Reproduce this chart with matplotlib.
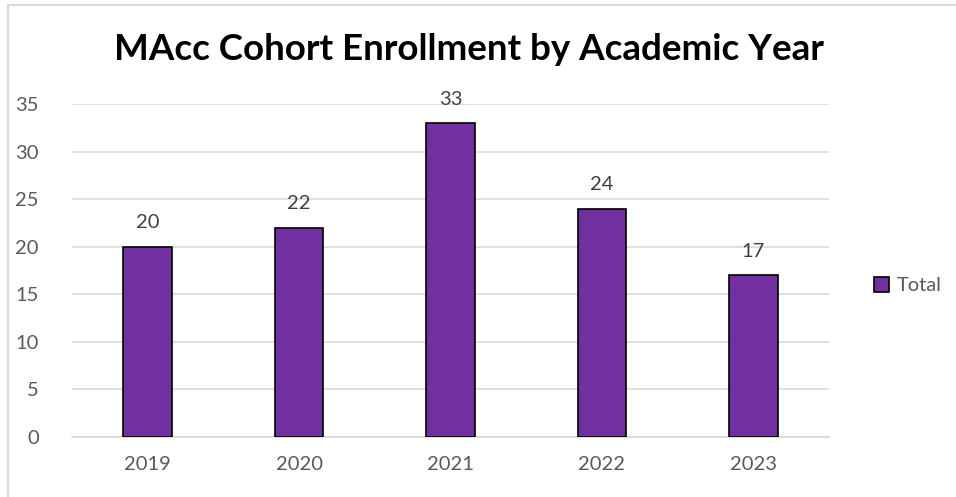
import matplotlib.pyplot as plt
from matplotlib.patches import Rectangle

years = ['2019', '2020', '2021', '2022', '2023']
totals = [20, 22, 33, 24, 17]
yticks = [0, 5, 10, 15, 20, 25, 30, 35]

purple = '#7030A0'
grey_text = '#595959'
plt.rcParams['font.family'] = ['Lato', 'DejaVu Sans']

fig = plt.figure(figsize=(9.56, 4.97), dpi=100)
# outer chart frame (right/bottom edges fall off the picture)
fig.patches.append(Rectangle((8 / 956, -0.05), 1.2, 1 - 5 / 497 + 0.05,
                             transform=fig.transFigure, fill=False,
                             edgecolor='#d9d9d9', linewidth=1.5))

ax = fig.add_axes([72 / 956, 1 - 437 / 497, (829 - 72) / 956, (437 - 104) / 497])
x = range(len(years))
bars = ax.bar(x, totals, width=0.32, color=purple, edgecolor='black',
              linewidth=1.2, label='Total', zorder=3)

ax.set_xlim(-0.5, len(years) - 0.5)
ax.set_ylim(0, 35)
ax.set_yticks(yticks)
ax.set_xticks(list(x))
ax.set_xticklabels(years)
ax.grid(axis='y', color='#d9d9d9', linewidth=1.2, zorder=0)
for s in ['top', 'right', 'left']:
    ax.spines[s].set_visible(False)
ax.spines['bottom'].set_color('#d9d9d9')
ax.spines['bottom'].set_linewidth(1.2)
ax.tick_params(axis='both', length=0, labelsize=14.5, colors=grey_text)
ax.tick_params(axis='y', pad=24)
ax.tick_params(axis='x', pad=14)

for b, v in zip(bars, totals):
    ax.annotate(str(v), (b.get_x() + b.get_width() / 2, v), xytext=(0, 11),
                textcoords='offset points', ha='center', va='bottom',
                fontsize=14.5, color='#404040')

fig.text(0.49, 1 - 50 / 497, 'MAcc Cohort Enrollment by Academic Year',
         ha='center', va='center', fontsize=26.5, fontweight='bold', color='black')

ax.legend(loc='center left', bbox_to_anchor=(1.035, 0.455), frameon=False,
          fontsize=14.5, handlelength=0.75, handleheight=0.75, handletextpad=0.4,
          labelcolor=grey_text)

fig.savefig('out.png', dpi=100)
